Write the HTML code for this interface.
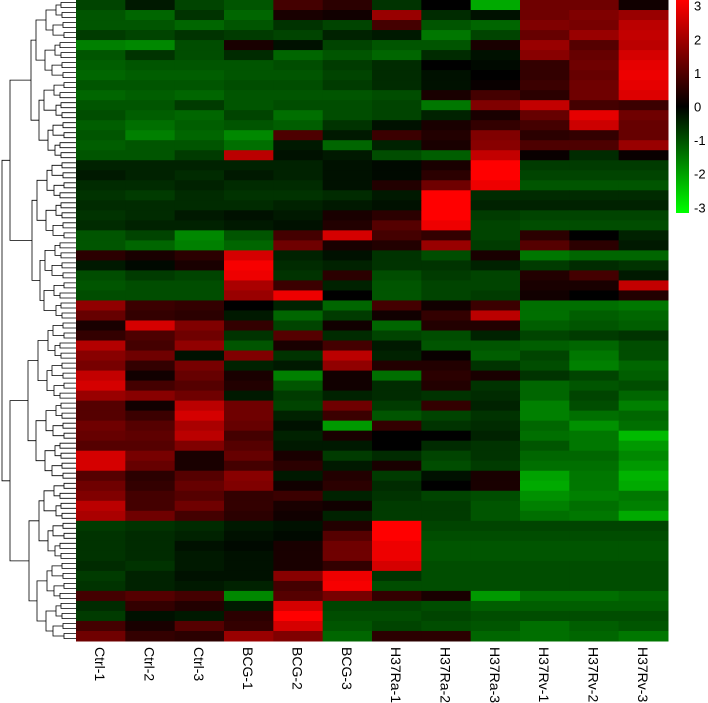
<!DOCTYPE html>
<html><head><meta charset="utf-8"><style>
html,body{margin:0;padding:0;background:#fff;}
svg{display:block;font-family:"Liberation Sans",sans-serif;}
</style></head><body>
<svg id="chart" width="708" height="703" viewBox="0 0 708 703" xmlns="http://www.w3.org/2000/svg">
<defs><linearGradient id="lg" x1="0" y1="0" x2="0" y2="1">
<stop offset="0" stop-color="#ff0000"/><stop offset="0.5" stop-color="#000000"/><stop offset="1" stop-color="#00ff00"/>
</linearGradient></defs>
<g id="dendro"></g>
<g id="cells"></g>
<g id="xlabels"></g>
<g id="legend">
<rect x="676" y="0" width="13" height="213" fill="url(#lg)"/>
</g>
</svg>
<script>
const columns = ["Ctrl-1","Ctrl-2","Ctrl-3","BCG-1","BCG-2","BCG-3","H37Ra-1","H37Ra-2","H37Ra-3","H37Rv-1","H37Rv-2","H37Rv-3"];
const legendTicks = [3,2,1,0,-1,-2,-3];
const rows = [
[-0.8,-0.3,-0.8,-1,0.8,0.5,-0.6,0,-2,1.3,1.3,0.2],
[-1,-1.2,-0.6,-1.2,0.3,0.2,1.8,-0.5,-0.2,1.3,1.5,1.8],
[-1,-1,-1.2,-1,-0.6,-0.8,0.8,-1,-1.2,1.5,1.4,2.2],
[-0.7,-0.8,-0.6,-0.7,-0.8,-0.4,-0.3,-1.4,-0.8,1.2,1.8,2.3],
[-1.5,-1.6,-0.9,0.3,-0.2,-0.8,-1,-1,0.3,1.8,1.0,2.2],
[-1,-0.6,-0.9,-0.5,-1.2,-1,-1.2,-0.5,-0.2,1.6,1.2,2.5],
[-1.1,-1,-1,-1,-0.9,-0.7,-0.5,0,-0.1,0.6,1.3,2.7],
[-1.2,-1.1,-1.1,-1,-1,-0.8,-0.5,-0.2,0,0.6,1.2,2.8],
[-1,-1,-1,-0.9,-0.9,-0.7,-0.5,-0.2,0.1,0.7,1.3,2.7],
[-1.2,-1.1,-1.2,-1,-1,-1,-0.9,0.3,0.8,0.5,1.3,2.6],
[-1,-1,-0.7,-1,-0.9,-0.9,-0.8,-1.4,1.5,2.3,0.8,0.7],
[-0.9,-1.1,-1.2,-0.8,-1.3,-0.9,-0.8,-0.4,0.3,1.2,2.7,1.3],
[-1.1,-1.3,-1.1,-1,-1.1,-0.6,-0.2,0.3,0.6,0.8,2.4,1.2],
[-1,-1.5,-1.2,-1.6,0.9,-0.3,0.7,0.4,1.5,0.5,0.6,1.2],
[-1.1,-1,-1,-1.3,-0.3,-1.2,-0.4,0.3,1.6,0.9,0.9,1.8],
[-1,-1,-0.7,2.2,-0.2,-0.3,-0.9,-1.1,2.3,0.1,-0.5,0.1],
[-0.4,-0.4,-0.4,-0.4,-0.4,-0.2,-0.1,0.3,3,-0.7,-0.7,-0.7],
[-0.3,-0.4,-0.5,-0.3,-0.4,-0.2,-0.1,0.5,3,-0.8,-0.8,-0.8],
[-0.5,-0.5,-0.4,-0.5,-0.5,-0.2,0.4,1.3,2.8,-1,-1,-1],
[-0.6,-0.7,-0.5,-0.6,-0.6,-0.5,-0.3,3,-0.5,-0.5,-0.5,-0.5],
[-0.5,-0.5,-0.5,-0.5,-0.4,-0.3,-0.2,3,-0.4,-0.4,-0.4,-0.4],
[-0.6,-0.5,-0.3,-0.2,-0.3,0.3,0.5,3,-0.7,-0.8,-0.8,-0.8],
[-0.5,-0.4,-0.4,-0.3,-0.2,0.4,1,2.8,-0.8,-0.9,-0.9,-0.9],
[-1,-0.8,-1.6,-1,0.8,2.5,0.8,0.6,-0.8,0.5,0,-0.4],
[-1,-1.2,-1.5,-1.2,1.3,0.3,0.4,1.8,-0.7,1,0.5,-0.3],
[0.5,0.3,0.5,2.5,-0.4,-0.2,-0.6,-0.9,0.3,-1.4,-1.2,-1.2],
[-0.3,-0.1,0.3,2.9,-0.5,-0.4,-0.6,-0.6,-0.4,-0.7,-0.5,-0.6],
[-0.9,-0.7,-0.8,2.8,-0.6,0.5,-0.9,-0.7,-0.8,0.4,0.8,-0.3],
[-1,-0.9,-0.9,2,0.7,-0.4,-1,-0.8,-0.8,0.3,0.3,2.3],
[-0.9,-0.9,-0.9,1.8,2.8,0,-1,-0.8,-0.7,0.2,0,0.4],
[1.7,0.7,0.6,0,-0.4,-1.2,0.8,0.2,0.7,-1.3,-1.3,-1.4],
[1.2,0.6,0.5,-0.3,-1.2,-0.7,0.2,0.6,2.2,-1.3,-1.1,-1.2],
[0.3,2.5,1.5,0.6,-0.8,0.2,-1.2,0.4,0.4,-1.1,-1,-1.1],
[0.6,0.9,1.3,-0.6,1,-0.5,-0.8,-0.9,-0.4,-0.8,-0.7,-0.6],
[2.1,0.8,1.7,-1,0.3,0.8,-0.3,-1,-1,-1.1,-1.2,-0.9],
[1.6,1.3,-0.2,1.5,-0.6,2.2,-0.4,0.1,-1.1,-0.8,-1.4,-0.9],
[1.4,0.6,1.4,-0.4,-0.3,1.7,0.4,0.4,-0.6,-0.9,-1.5,-1.2],
[2.3,0.2,1.2,0.3,-1.5,0.2,-1.3,0.5,0.3,-0.6,-0.8,-1.1],
[2.5,0.8,1,0.4,-1,0.2,-0.5,0.4,-0.6,-1.2,-1,-0.9],
[1.8,1.6,1.3,-0.3,-0.7,-0.4,-0.5,-0.6,-0.5,-1.2,-0.8,-1.2],
[1,0.2,2.2,1.3,-0.8,1.3,-0.7,0.6,-0.4,-1.5,-0.9,-1.5],
[1,0.7,2.5,1.3,-0.4,0.7,-1,-0.8,-0.6,-1.5,-1.3,-1.2],
[1.3,1,2,1.2,-0.2,-1.8,0.6,-0.6,-0.5,-1.2,-1.7,-1.3],
[1.2,1.1,2.2,0.8,-0.4,0.3,0,0,-0.4,-1.3,-1.4,-2.2],
[1,1,1.5,1,-0.3,-0.3,0,-0.5,-0.6,-1,-1.4,-1.8],
[2.5,1.4,0.3,1.2,0.3,-0.7,-0.5,-0.8,-0.6,-1.2,-1.2,-1.6],
[2.5,1.2,0.3,0.8,0.5,-0.3,0.3,-0.9,-0.7,-1.3,-1.3,-1.8],
[1,0.5,1,1.6,-0.3,0.4,-0.7,-0.2,0.3,-1.9,-1.4,-2.1],
[1.3,0.6,1.2,1.5,0.2,0.5,-0.5,0,0.3,-2,-1.4,-2],
[1.5,0.8,1,0.6,0.7,-0.4,-0.6,-0.8,-0.9,-1.7,-1.5,-1.4],
[2.2,0.8,1.3,0.6,0.3,0.2,-0.7,-0.7,-1,-1.5,-1.3,-1.5],
[2,1.3,0.8,0.5,0.2,-0.4,-0.7,-0.7,-1,-1.3,-1.4,-2],
[-0.7,-0.6,-0.5,-0.3,-0.2,0.4,3,-0.8,-0.8,-0.8,-0.8,-0.8],
[-0.6,-0.5,-0.4,-0.2,-0.1,1,3,-0.9,-0.9,-0.9,-0.9,-0.9],
[-0.6,-0.5,-0.2,-0.1,0.3,1.3,2.8,-1,-1,-1,-1,-1],
[-0.6,-0.5,-0.3,-0.2,0.3,1.3,2.8,-1,-1,-1,-1,-1],
[-0.5,-0.6,-0.3,-0.2,0.3,0.6,2.5,-0.9,-0.9,-0.9,-0.9,-0.9],
[-0.7,-0.4,-0.2,-0.2,1.6,2.8,-0.6,-0.9,-0.9,-0.9,-0.9,-0.9],
[-0.6,-0.4,-0.3,-0.4,0.8,2.9,-0.9,-0.9,-0.9,-0.9,-0.9,-0.9],
[0.8,1,0.8,-1.6,1,1.4,0.6,0.3,-1.8,-1.3,-1.3,-1.2],
[-0.5,0.6,0.4,-0.3,2.5,-0.8,-0.8,-0.9,-1.1,-1.1,-1.1,-1.1],
[-0.7,-0.2,-0.3,0.5,3,-0.9,-0.9,-0.8,-0.9,-0.9,-0.9,-0.9],
[0.8,0.3,1,0.6,2.5,-1,-0.8,-0.9,-1,-1.3,-1.1,-1],
[1.3,0.6,0.5,1.8,1.5,-1.2,0.5,0.5,-1.2,-1.3,-1.2,-1.4]
];
const NS = "http://www.w3.org/2000/svg";
const X0 = 76, X1 = 668, Y0 = 0, Y1 = 641;
const colW = (X1 - X0) / columns.length;
const rowH = (Y1 - Y0) / rows.length;
function xPos(i){ return X0 + i * colW; }
function yPos(j){ return Y0 + j * rowH; }
function color(v){
  const t = Math.max(-1, Math.min(1, v / 3));
  const r = t > 0 ? Math.round(255 * t) : 0;
  const g = t < 0 ? Math.round(255 * -t) : 0;
  return "rgb(" + r + "," + g + ",0)";
}
const cells = document.getElementById("cells");
rows.forEach((row, j) => {
  row.forEach((v, i) => {
    const r = document.createElementNS(NS, "rect");
    r.setAttribute("x", xPos(i).toFixed(2));
    r.setAttribute("y", yPos(j).toFixed(2));
    r.setAttribute("width", (colW + 0.5).toFixed(2));
    r.setAttribute("height", (rowH + 0.5).toFixed(2));
    r.setAttribute("fill", color(v));
    
    
    cells.appendChild(r);
  });
});
const xl = document.getElementById("xlabels");
columns.forEach((c, i) => {
  const cx = xPos(i) + colW / 2 - 5.5;
  const t = document.createElementNS(NS, "text");
  t.setAttribute("x", cx); t.setAttribute("y", 647);
  t.setAttribute("transform", "rotate(90 " + cx + " 647)");
  t.setAttribute("font-size", "14"); t.setAttribute("fill", "#000");
  t.textContent = c;
  
  
  xl.appendChild(t);
});
const lg = document.getElementById("legend");
legendTicks.forEach(v => {
  const y = 106.5 - v * 33.6;
  const t = document.createElementNS(NS, "text");
  t.setAttribute("x", 694); t.setAttribute("y", y + 5);
  t.setAttribute("font-size", "13"); t.setAttribute("fill", "#000");
  t.textContent = String(v);
  
  
  lg.appendChild(t);
});
// dendrogram (structure only)
const dg = document.getElementById("dendro");
const NL = 128, leafH = (Y1 - Y0) / NL;
let path = "";
function build(a, b, depth){
  if (b - a === 1) return { y: Y0 + (a + 0.5) * leafH, x: X0 };
  const m = Math.floor((a + b) / 2);
  const L = build(a, m, depth + 1), R = build(m, b, depth + 1);
  const span = b - a;
  let x = X0 - 4 - Math.log2(span) * 8 - ((a * 7 + depth * 3) % 5);
  if (depth === 0) x = 2; else if (depth === 1) x = 10;
  x = Math.min(x, Math.min(L.x, R.x) - 2);
  path += "M" + L.x.toFixed(1) + " " + L.y.toFixed(1) + "H" + x.toFixed(1) + "V" + R.y.toFixed(1) + "H" + R.x.toFixed(1);
  return { y: (L.y + R.y) / 2, x: x };
}
build(0, NL, 0);
const p = document.createElementNS(NS, "path");
p.setAttribute("d", path); p.setAttribute("fill", "none");
p.setAttribute("stroke", "#000"); p.setAttribute("stroke-width", "0.8");


dg.appendChild(p);
</script>
</body></html>
